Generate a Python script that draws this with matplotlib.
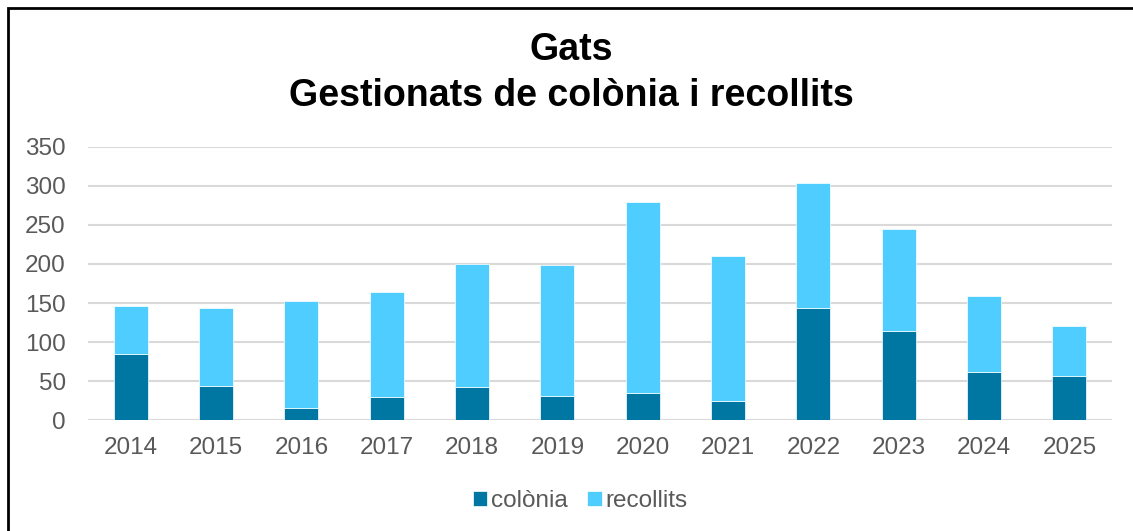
import matplotlib
matplotlib.use('Agg')
import matplotlib.pyplot as plt
from matplotlib.patches import Rectangle
import numpy as np

years = ['2014', '2015', '2016', '2017', '2018', '2019',
         '2020', '2021', '2022', '2023', '2024', '2025']
colonia = [85, 44, 15, 29, 42, 31, 35, 25, 144, 114, 61, 56]
recollits = [61, 99, 137, 135, 158, 168, 245, 185, 160, 131, 98, 65]

C_COLONIA = '#0077A3'
C_RECOLLITS = '#4FCDFF'
TXT = '#595959'

plt.rcParams['font.family'] = ['Liberation Sans', 'DejaVu Sans']

fig = plt.figure(figsize=(11.33, 5.31), dpi=100)
ax = fig.add_axes([0.0777, 0.209, 0.9038, 0.5142])

x = np.arange(len(years))
w = 0.4
ax.bar(x, colonia, w, color=C_COLONIA, edgecolor='white', linewidth=0.5,
       label='colònia', zorder=3)
ax.bar(x, recollits, w, bottom=colonia, color=C_RECOLLITS, edgecolor='white',
       linewidth=0.5, label='recollits', zorder=3)

ax.set_xlim(-0.5, len(years) - 0.5)
ax.set_ylim(0, 350)
ax.set_yticks(range(0, 351, 50))
ax.set_xticks(x)
ax.set_xticklabels(years)
ax.yaxis.grid(True, color='#D9D9D9', linewidth=1.5, zorder=0)
ax.tick_params(axis='both', length=0, labelsize=17.5, labelcolor=TXT)
ax.tick_params(axis='x', pad=12)
ax.tick_params(axis='y', pad=16)
for s in ax.spines.values():
    s.set_visible(False)

fig.text(0.504, 1 - 50 / 531, 'Gats', ha='center', va='center',
         fontsize=27, fontweight='bold')
fig.text(0.504, 1 - 96 / 531, 'Gestionats de colònia i recollits',
         ha='center', va='center', fontsize=27, fontweight='bold')

leg = fig.legend(loc='center', bbox_to_anchor=(0.512, 1 - 501 / 531), ncol=2,
                 frameon=False, fontsize=17.5, handlelength=0.6,
                 handleheight=0.6, handletextpad=0.15, columnspacing=0.8)
for t in leg.get_texts():
    t.set_color(TXT)

# outer frame
fig.patches.append(Rectangle((8 / 1133, -0.05), 1.1, 1 - 8 / 531 + 0.05,
                             transform=fig.transFigure, fill=False,
                             edgecolor='black', linewidth=2))

fig.savefig('out.png', dpi=100)
